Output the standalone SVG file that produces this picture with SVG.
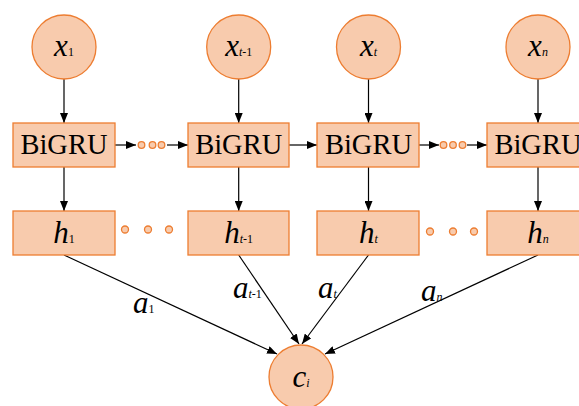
<svg xmlns="http://www.w3.org/2000/svg" width="579" height="406" viewBox="0 0 579 406">
<style>
.n{fill:#F8CBAD;stroke:#ED7D31;stroke-width:1.3}
.d{fill:#F8CBAD;stroke:#ED7D31;stroke-width:1.3}
.e{stroke:#000;stroke-width:1.2;fill:none;marker-end:url(#ah)}
text{font-family:"Liberation Serif","Times New Roman",serif;fill:#000}
.v{font-family:"Liberation Serif","Times New Roman",serif;font-style:italic;font-size:31px}
.s{font-size:12px;font-style:normal}
.si{font-size:12px;font-style:italic}
.b{font-size:28.5px}
</style>
<defs>
<marker id="ah" viewBox="0 0 10 8" refX="10" refY="4" markerWidth="10" markerHeight="8" markerUnits="userSpaceOnUse" orient="auto">
<path d="M0,0 L10,4 L0,8 Z" fill="#000"/>
</marker>
</defs>
<g id="connectors">
<line class="e" x1="64" y1="79" x2="64" y2="123"/>
<line class="e" x1="238.7" y1="79" x2="238.7" y2="123"/>
<line class="e" x1="368.5" y1="79" x2="368.5" y2="123"/>
<line class="e" x1="538" y1="79" x2="538" y2="123"/>
<line class="e" x1="64" y1="167" x2="64" y2="211"/>
<line class="e" x1="238.7" y1="167" x2="238.7" y2="211"/>
<line class="e" x1="368.5" y1="167" x2="368.5" y2="211"/>
<line class="e" x1="538" y1="167" x2="538" y2="211"/>
<line class="e" x1="115" y1="145" x2="136" y2="145"/>
<line class="e" x1="167" y1="145" x2="188" y2="145"/>
<line class="e" x1="289" y1="145" x2="317" y2="145"/>
<line class="e" x1="419" y1="145" x2="439" y2="145"/>
<line class="e" x1="467" y1="145" x2="487" y2="145"/>
<line class="e" x1="64" y1="255" x2="277" y2="354"/>
<line class="e" x1="238.7" y1="255" x2="299" y2="344"/>
<line class="e" x1="368.5" y1="255" x2="302" y2="344"/>
<line class="e" x1="538" y1="255" x2="325" y2="354"/>
</g>
<g id="dots">
<circle class="d" cx="141.5" cy="145" r="3.3"/>
<circle class="d" cx="152.5" cy="145" r="3.3"/>
<circle class="d" cx="161.5" cy="145" r="3.3"/>
<circle class="d" cx="443.5" cy="145" r="3.3"/>
<circle class="d" cx="453" cy="145" r="3.3"/>
<circle class="d" cx="462.5" cy="145" r="3.3"/>
<circle class="d" cx="125" cy="229.5" r="3.5"/>
<circle class="d" cx="148" cy="229.5" r="3.5"/>
<circle class="d" cx="169" cy="229.5" r="3.5"/>
<circle class="d" cx="430" cy="231.5" r="3.5"/>
<circle class="d" cx="453" cy="231.5" r="3.5"/>
<circle class="d" cx="474" cy="231.5" r="3.5"/>
</g>
<g id="x1"><circle class="n" cx="64" cy="47" r="32"/><text x="64" y="56" text-anchor="middle"><tspan class="v">x</tspan><tspan class="s">1</tspan></text></g>
<g id="xt-1"><circle class="n" cx="238.7" cy="47" r="32"/><text x="238.7" y="56" text-anchor="middle"><tspan class="v">x</tspan><tspan class="si">t</tspan><tspan class="s">-1</tspan></text></g>
<g id="xt"><circle class="n" cx="368.5" cy="47" r="32"/><text x="368.5" y="56" text-anchor="middle"><tspan class="v">x</tspan><tspan class="si">t</tspan></text></g>
<g id="xn"><circle class="n" cx="538" cy="47" r="32"/><text x="538" y="56" text-anchor="middle"><tspan class="v">x</tspan><tspan class="si">n</tspan></text></g>
<g id="bigru1"><rect class="n" x="13" y="123" width="102" height="44"/><text class="b" x="64" y="154" text-anchor="middle">BiGRU</text></g>
<g id="bigru2"><rect class="n" x="188" y="123" width="101" height="44"/><text class="b" x="238.7" y="154" text-anchor="middle">BiGRU</text></g>
<g id="bigru3"><rect class="n" x="317" y="123" width="102" height="44"/><text class="b" x="368.5" y="154" text-anchor="middle">BiGRU</text></g>
<g id="bigru4"><rect class="n" x="487" y="123" width="102" height="44"/><text class="b" x="538" y="154" text-anchor="middle">BiGRU</text></g>
<g id="h1"><rect class="n" x="13" y="211" width="102" height="44"/><text x="64" y="243" text-anchor="middle"><tspan class="v">h</tspan><tspan class="s">1</tspan></text></g>
<g id="ht-1"><rect class="n" x="188" y="211" width="101" height="44"/><text x="238.7" y="243" text-anchor="middle"><tspan class="v">h</tspan><tspan class="si">t</tspan><tspan class="s">-1</tspan></text></g>
<g id="ht"><rect class="n" x="317" y="211" width="102" height="44"/><text x="368.5" y="243" text-anchor="middle"><tspan class="v">h</tspan><tspan class="si">t</tspan></text></g>
<g id="hn"><rect class="n" x="487" y="211" width="102" height="44"/><text x="538" y="243" text-anchor="middle"><tspan class="v">h</tspan><tspan class="si">n</tspan></text></g>
<g id="ci"><circle class="n" cx="301" cy="377" r="32"/><text x="301" y="387" text-anchor="middle"><tspan class="v">c</tspan><tspan class="si">i</tspan></text></g>
<g id="labels">
<text x="133" y="313"><tspan class="v">a</tspan><tspan class="s">1</tspan></text>
<text x="233" y="298"><tspan class="v">a</tspan><tspan class="si">t</tspan><tspan class="s">-1</tspan></text>
<text x="318" y="298"><tspan class="v">a</tspan><tspan class="si">t</tspan></text>
<text x="421" y="301"><tspan class="v">a</tspan><tspan class="si">n</tspan></text>
</g>
</svg>
